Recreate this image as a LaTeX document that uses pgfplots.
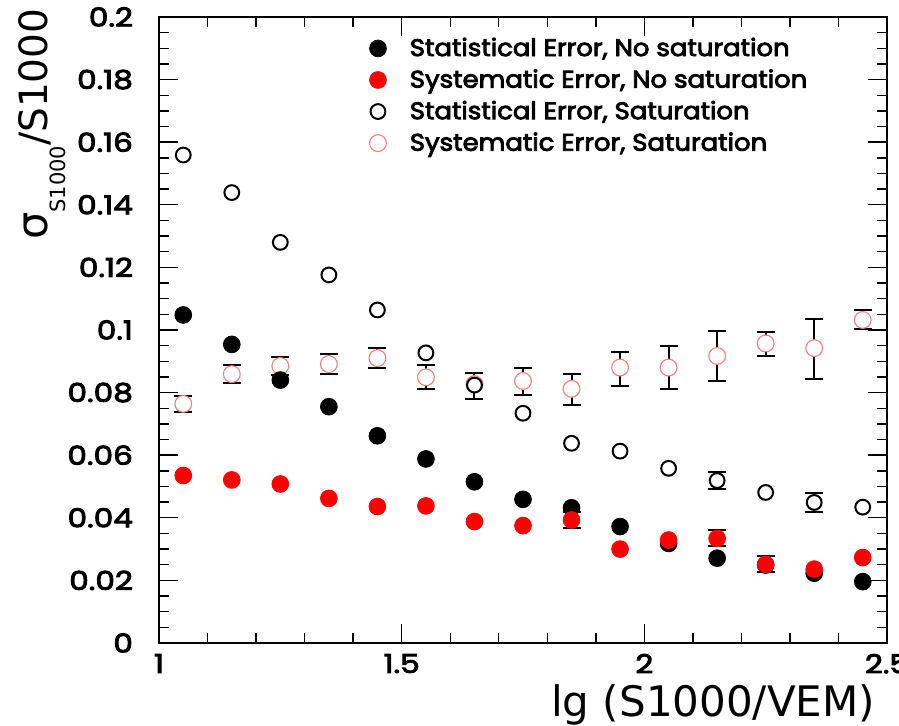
\documentclass[border=0pt]{standalone}
\usepackage{fontspec}
\usepackage{pgfplots}
\usepackage{pgfplotstable}
\pgfplotsset{compat=1.18}
\newfontfamily\tickfont{Poppins}[FakeBold=3.5, FakeStretch=1.2]
\newfontfamily\legfont{Poppins}[FakeBold=3.5, FakeStretch=1.08]
\newfontfamily\labelfont{DejaVu Sans}
\definecolor{lightred}{RGB}{245,125,125}

\pgfplotstableread{
x y
1.05 0.1048
1.15 0.0954
1.25 0.0840
1.35 0.0755
1.45 0.0662
1.55 0.0588
1.65 0.0515
1.75 0.0459
1.85 0.0432
1.95 0.0372
2.05 0.0318
2.15 0.0271
2.25 0.0249
2.35 0.0223
2.45 0.0196
}\statnosat

\pgfplotstableread{
x y
1.05 0.0535
1.15 0.0521
1.25 0.0508
1.35 0.0462
1.45 0.0436
1.55 0.0438
1.65 0.0388
1.75 0.0375
1.85 0.0393
1.95 0.0300
2.05 0.0329
2.15 0.0334
2.25 0.0251
2.35 0.0236
2.45 0.0273
}\sysnosat

\pgfplotstableread{
x y ep em
1.85 0.0393 0.0025 0.0025
2.15 0.0334 0.0027 0.0023
2.25 0.0251 0.0028 0.0025
}\sysnosatbars

\pgfplotstableread{
x y
1.05 0.1559
1.15 0.1439
1.25 0.1280
1.35 0.1176
1.45 0.1064
1.55 0.0927
1.65 0.0824
1.75 0.0734
1.85 0.0638
1.95 0.0613
2.05 0.0558
2.15 0.0519
2.25 0.0481
2.35 0.0449
2.45 0.0434
}\statsat

\pgfplotstableread{
x y ep em
2.15 0.0519 0.0026 0.0027
2.35 0.0449 0.0029 0.0029
}\statsatbars

\pgfplotstableread{
x y ep em
1.05 0.0764 0.0025 0.0027
1.15 0.0859 0.0028 0.0028
1.25 0.0885 0.0030 0.0030
1.35 0.0891 0.0031 0.0033
1.45 0.0910 0.0033 0.0032
1.55 0.0849 0.0039 0.0038
1.65 0.0827 0.0035 0.0048
1.75 0.0837 0.0041 0.0045
1.85 0.0812 0.0047 0.0052
1.95 0.0880 0.0051 0.0059
2.05 0.0880 0.0069 0.0069
2.15 0.0917 0.0081 0.0080
2.25 0.0957 0.0038 0.0039
2.35 0.0942 0.0093 0.0099
2.45 0.1032 0.0032 0.0029
}\syssat

\newcommand\tf{\tickfont\fontsize{13}{13}\selectfont}
\newcommand\lf{\legfont\fontsize{12}{12}\selectfont}

\begin{document}
\begin{tikzpicture}
\begin{axis}[
  width=364pt, height=313pt, scale only axis,
  xmin=1, xmax=2.5, ymin=0, ymax=0.2,
  xtick={1,1.5,2,2.5}, xticklabels={1,1.5,2,2.5},
  ytick={0,0.02,0.04,0.06,0.08,0.1,0.12,0.14,0.16,0.18,0.2},
  yticklabels={0,0.02,0.04,0.06,0.08,0.1,0.12,0.14,0.16,0.18,0.2},
  minor x tick num=4, minor y tick num=3,
  tick align=inside, xtick pos=both, ytick pos=both,
  xticklabel pos=lower, yticklabel pos=left,
  major tick length=9.5pt, minor tick length=5pt,
  tick style={line width=0.7pt, black},
  axis line style={line width=1pt},
  ticklabel style={font=\tf},
  yticklabel style={xshift=-9.5pt},
  xticklabel style={yshift=-2pt},
  xlabel={lg (S1000/VEM)},
  xlabel style={font=\labelfont\fontsize{21}{21}\selectfont, inner sep=0pt,
    at={(axis description cs:0.984,-0.118)}, anchor=base east},
  ylabel={{\fontsize{21.5}{21.5}\selectfont σ}\raisebox{-9pt}{\fontsize{10.5}{10.5}\selectfont S1000}/S1000},
  ylabel style={font=\labelfont\fontsize{19.5}{19.5}\selectfont, inner sep=0pt,
    at={(axis description cs:-0.1525,1.014)}, anchor=base east},
  legend image code/.code={\path (0cm,0cm) (0.8cm,0cm); \draw[#1, /tikz/only marks] plot coordinates {(0.3cm,0cm)};},
  legend style={draw=none, fill=none, at={(axis description cs:0.268,0.9786)}, anchor=north west,
    font=\lf, row sep=2.15pt, nodes={inner sep=1.5pt}},
  legend cell align=left,
  clip=false,
]
% systematic error, saturation (red open, error bars)
\addplot[forget plot, only marks, mark=none, draw=black,
  error bars/.cd, y dir=both, y explicit,
  error bar style={line width=1pt, black},
  error mark options={rotate=90, mark size=4.5pt, line width=1pt, black}]
  table[x=x, y=y, y error plus=ep, y error minus=em] {\syssat};
\addplot[forget plot, only marks, mark=*, mark size=4.2pt,
  mark options={draw=lightred, fill=white, line width=0.55pt}]
  table[x=x, y=y] {\syssat};
% statistical error, saturation (black open)
\addplot[forget plot, only marks, mark=none, draw=black,
  error bars/.cd, y dir=both, y explicit,
  error bar style={line width=1pt, black},
  error mark options={rotate=90, mark size=4.5pt, line width=1pt, black}]
  table[x=x, y=y, y error plus=ep, y error minus=em] {\statsatbars};
\addplot[forget plot, only marks, mark=*, mark size=3.7pt,
  mark options={draw=black, fill=white, line width=1pt}]
  table[x=x, y=y] {\statsat};
% statistical error, no saturation (black filled)
\addplot[forget plot, only marks, mark=*, mark size=4.2pt,
  mark options={draw=black, fill=black}]
  table[x=x, y=y] {\statnosat};
% systematic error, no saturation (red filled)
\addplot[forget plot, only marks, mark=none, draw=black,
  error bars/.cd, y dir=both, y explicit,
  error bar style={line width=1pt, black},
  error mark options={rotate=90, mark size=4.5pt, line width=1pt, black}]
  table[x=x, y=y, y error plus=ep, y error minus=em] {\sysnosatbars};
\addplot[forget plot, only marks, mark=*, mark size=4.2pt,
  mark options={draw=red, fill=red}]
  table[x=x, y=y] {\sysnosat};

\addlegendimage{mark=*, mark size=4.2pt, mark options={draw=black, fill=black}}
\addlegendentry{Statistical Error, No saturation}
\addlegendimage{mark=*, mark size=4.2pt, mark options={draw=red, fill=red}}
\addlegendentry{Systematic Error, No saturation}
\addlegendimage{mark=o, mark size=3.7pt, mark options={draw=black, line width=1pt}}
\addlegendentry{Statistical Error, Saturation}
\addlegendimage{mark=o, mark size=4.2pt, mark options={draw=lightred, line width=0.55pt}}
\addlegendentry{Systematic Error, Saturation}
\end{axis}
\pgfresetboundingbox
\useasboundingbox (-79.5pt,-41.5pt) rectangle (370pt,321.5pt);
\end{tikzpicture}
\end{document}
